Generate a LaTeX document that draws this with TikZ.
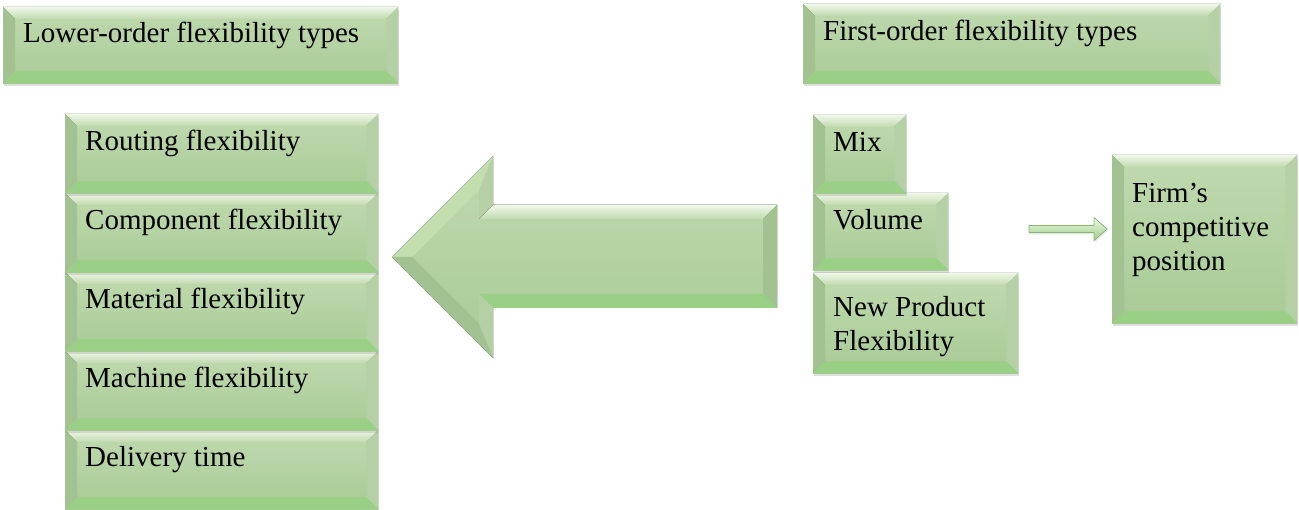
\documentclass[tikz,border=0pt]{standalone}
\usepackage{fontspec}
\setmainfont{Liberation Serif}
\usepackage{tikz}
\usetikzlibrary{calc,positioning,shadows}

\definecolor{bodytop}{RGB}{192,218,175}
\definecolor{bodybot}{RGB}{168,202,150}
\definecolor{bevlight}{RGB}{240,248,233}
\definecolor{bevleft}{RGB}{162,194,146}
\definecolor{bevright}{RGB}{182,208,166}
\definecolor{bevbot}{RGB}{154,207,134}
\definecolor{arrowhi}{RGB}{194,222,175}
\definecolor{edgegreen}{RGB}{138,180,118}

\newcommand{\bv}{12}

\tikzset{%
boxbody/.style={inner sep=0pt, top color=bodytop, bottom color=bodybot,
  drop shadow={shadow xshift=0.5pt, shadow yshift=-3pt, opacity=0.25}},
flextext/.style={inner sep=0pt, align=left, font=\fontsize{29}{34}\selectfont},
}

% name, x, y, width, height, offset of last baseline, text
\newcommand{\bevelbox}[7]{%
\node[boxbody, minimum width=#4pt, minimum height=#5pt, anchor=north west] (#1) at (#2,#3) {};
\fill[top color=bevlight, bottom color=bodytop] (#1.north west) -- (#1.north east)
  -- ($(#1.north east)+(-\bv,\bv)$) -- ($(#1.north west)+(\bv,\bv)$) -- cycle;
\fill[bevleft] (#1.north west) -- ($(#1.north west)+(\bv,\bv)$)
  -- ($(#1.south west)+(\bv,-\bv)$) -- (#1.south west) -- cycle;
\fill[bevright] (#1.north east) -- ($(#1.north east)+(-\bv,\bv)$)
  -- ($(#1.south east)+(-\bv,-\bv)$) -- (#1.south east) -- cycle;
\fill[bevbot] (#1.south west) -- ($(#1.south west)+(\bv,-\bv)$)
  -- ($(#1.south east)+(-\bv,-\bv)$) -- (#1.south east) -- cycle;
\node[flextext, anchor=base west] (#1-txt) at ($(#1.north west)+(20,#6)$) {#7};
}

\begin{document}
\begin{tikzpicture}[x=1pt,y=-1pt]
\useasboundingbox (0,0) rectangle (1299,510);

% headers
\bevelbox{lowerhead}{3}{7}{395}{76}{36}{Lower-order flexibility types}
\bevelbox{firsthead}{803}{4}{417}{79}{37}{First-order flexibility types}

% lower-order types (drawn bottom up)
\bevelbox{delivery}{65}{430}{313}{79}{37}{Delivery time}
\bevelbox{machine}{65}{351}{313}{79}{37}{Machine flexibility}
\bevelbox{material}{65}{272}{313}{79}{37}{Material flexibility}
\bevelbox{component}{65}{193}{313}{79}{37}{Component flexibility}
\bevelbox{routing}{65}{114}{313}{79}{37}{Routing flexibility}

% first-order types
\bevelbox{newprod}{813}{273}{205}{100}{78}{New Product\\Flexibility}
\bevelbox{volume}{813}{193}{135}{77}{37}{Volume}
\bevelbox{mix}{813}{115}{93}{78}{37}{Mix}
\bevelbox{firm}{1112}{155}{185}{168}{116}{Firm’s\\competitive\\position}

% big arrow, outer and inner outline
\coordinate (atip) at (392,257);
\coordinate (aht) at (493,156);
\coordinate (ast) at (493,205);
\coordinate (att) at (777,205);
\coordinate (atb) at (777,308);
\coordinate (asb) at (493,308);
\coordinate (ahb) at (493,358);
\coordinate (itip) at (412,257);
\coordinate (iht) at (479,190);
\coordinate (ist) at (479,219);
\coordinate (itt) at (763,219);
\coordinate (itb) at (763,294);
\coordinate (isb) at (479,294);
\coordinate (ihb) at (479,324);

\fill[black, opacity=0.2, xshift=1pt, yshift=-3pt] (atip) -- (aht) -- (ast) -- (att) -- (atb) -- (asb) -- (ahb) -- cycle;
\fill[top color=bodytop, bottom color=bodybot] (atip) -- (aht) -- (ast) -- (att) -- (atb) -- (asb) -- (ahb) -- cycle;
\fill[arrowhi] (atip) -- (aht) -- (iht) -- (itip) -- cycle;
\fill[bevright] (aht) -- (ast) -- (ist) -- (iht) -- cycle;
\fill[top color=bevlight, bottom color=bodytop] (ast) -- (att) -- (itt) -- (ist) -- cycle;
\fill[bevleft] (att) -- (atb) -- (itb) -- (itt) -- cycle;
\fill[bevbot] (atb) -- (asb) -- (isb) -- (itb) -- cycle;
\fill[bevright] (asb) -- (ahb) -- (ihb) -- (isb) -- cycle;
\fill[bevleft] (ahb) -- (atip) -- (itip) -- (ihb) -- cycle;

% small arrow to the firm
\coordinate (sa1) at ($(firm.north west)+(-83,74)$);
\coordinate (sa2) at ($(firm.north west)+(-5,74)$);
\fill[top color=bevlight, bottom color=bevbot, draw=edgegreen, line width=0.6pt,
  drop shadow={shadow xshift=0.5pt, shadow yshift=-2pt, opacity=0.2}]
  ($(sa1)+(0,-3.5)$) -- ($(sa2)+(-13,-3.5)$) -- ($(sa2)+(-13,-11.5)$) -- (sa2)
  -- ($(sa2)+(-13,11.5)$) -- ($(sa2)+(-13,3.5)$) -- ($(sa1)+(0,3.5)$) -- cycle;

\end{tikzpicture}
\end{document}
